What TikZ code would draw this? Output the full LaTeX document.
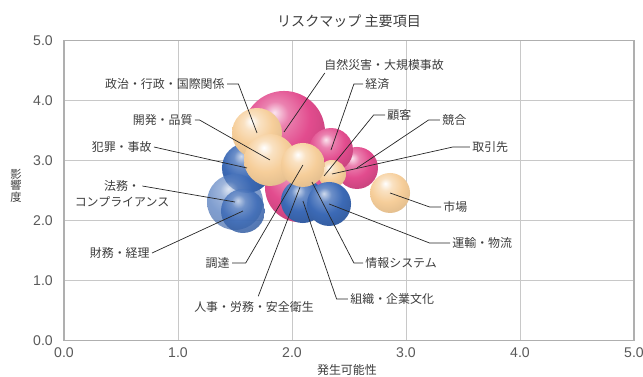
\documentclass[tikz,border=0pt]{standalone}
\usepackage{fontspec}
\setmainfont{Liberation Sans}
\newfontfamily\jpfont{Noto Sans CJK JP}
\usetikzlibrary{calc}
\definecolor{riskpink}{RGB}{226,76,142}
\definecolor{riskbeige}{RGB}{246,206,154}
\definecolor{riskblue}{RGB}{60,106,182}
\definecolor{gridgray}{RGB}{200,200,200}
\definecolor{framegray}{RGB}{175,175,175}
\definecolor{labelgray}{RGB}{60,60,60}
\pgfdeclareradialshading{pinkball}{\pgfpoint{-6bp}{12bp}}{color(0bp)=(riskpink!15!white); color(8bp)=(riskpink!70!white); color(20bp)=(riskpink); color(36bp)=(riskpink!85!black); color(52bp)=(riskpink!55!black); color(70bp)=(riskpink!50!black)}
\pgfdeclareradialshading{beigeball}{\pgfpoint{-6bp}{12bp}}{color(0bp)=(white); color(8bp)=(riskbeige!60!white); color(20bp)=(riskbeige); color(36bp)=(riskbeige!90!black); color(52bp)=(riskbeige!65!black); color(70bp)=(riskbeige!60!black)}
\pgfdeclareradialshading{blueball}{\pgfpoint{-6bp}{12bp}}{color(0bp)=(riskblue!25!white); color(8bp)=(riskblue!75!white); color(20bp)=(riskblue); color(36bp)=(riskblue!85!black); color(52bp)=(riskblue!55!black); color(70bp)=(riskblue!50!black)}
\tikzset{
    bubble/.style={circle, inner sep=0pt, minimum size=#1},
    pinkbub/.style={bubble=#1, shading=pinkball},
    beigebub/.style={bubble=#1, shading=beigeball},
    bluebub/.style={bubble=#1, shading=blueball},
    riskname/.style={font=\jpfont\fontsize{8.5}{10}\selectfont, text=labelgray, inner sep=1.5pt},
    ticklabel/.style={font=\fontsize{10}{12}\selectfont, text=black!65, inner sep=0pt},
    leader/.style={draw=black!85, line width=0.5pt},
    gridline/.style={draw=gridgray, line width=0.7pt},
}

\begin{document}
\begin{tikzpicture}[x=2.85cm, y=1.5025cm]
    \useasboundingbox (-0.5614,-0.5874) rectangle (5.0789,5.6689);

    % grid and frame
    \foreach \k in {1,...,4} {
        \draw[gridline] (\k,0) -- (\k,5);
        \draw[gridline] (0,\k) -- (5,\k);
    }
    \draw[framegray, line width=0.8pt] (0,0) rectangle (5,5);

    %% Ticks
    \foreach \k in {0,...,5} {
        \node[ticklabel, anchor=east] (ty\k) at (-0.096,\k) {\k.0};
        \node[ticklabel] (tx\k) at (\k,-0.205) {\k.0};
    }
    \node[font=\jpfont\fontsize{10}{12}\selectfont, text=labelgray] (title) at (2.5,5.311) {リスクマップ 主要項目};
    \node[font=\jpfont\fontsize{8.5}{10}\selectfont, text=labelgray] (xname) at (2.482,-0.486) {発生可能性};
    \foreach \c [count=\i] in {影,響,度}
        \node[font=\jpfont\fontsize{8}{9}\selectfont, text=labelgray, inner sep=0pt] (yname\i) at (-0.421,{2.95-0.185*\i}) {\c};

    %% Bubbles (back to front)
    \node[pinkbub=1.75cm] (b-jinji) at (2.070,2.554) {};
    \node[pinkbub=2.05cm] (b-shizen) at (1.930,3.473) {};
    \node[pinkbub=1.05cm] (b-kyogo) at (2.570,2.874) {};
    \node[pinkbub=1.1cm] (b-keizai) at (2.342,3.173) {};
    \node[bluebub=1.25cm] (b-hanzai) at (1.605,2.874) {};
    \node[beigebub=1.25cm] (b-seiji) at (1.693,3.456) {};
    \node[beigebub=1.3cm] (b-kaihatsu) at (1.807,3.007) {};
    \node[bluebub=1.1cm] (b-soshiki) at (2.096,2.324) {};
    \node[beigebub=0.7cm] (b-torihiki) at (2.351,2.774) {};
    \node[bluebub=1.1cm] (b-unyu) at (2.325,2.275) {};
    \node[beigebub=1.1cm] (b-chotatsu) at (2.096,2.924) {};
    \node[beigebub=1.0cm] (b-shijo) at (2.860,2.458) {};
    \node[bluebub=1.4cm, opacity=0.65] (b-homu) at (1.500,2.308) {};
    \node[bluebub=1.1cm, opacity=0.85] (b-zaimu) at (1.570,2.158) {};
    \coordinate (c-kokyaku) at (2.281,2.741);
    \coordinate (c-joho) at (2.175,2.641);

    %% Names
    \node[riskname, anchor=east] (l-seiji) at (1.430,4.271) {政治・行政・国際関係};
    \node[riskname, anchor=west] (l-shizen) at (2.263,4.587) {自然災害・大規模事故};
    \node[riskname, anchor=west] (l-keizai) at (2.623,4.271) {経済};
    \node[riskname, anchor=west] (l-kokyaku) at (2.816,3.755) {顧客};
    \node[riskname, anchor=west] (l-kyogo) at (3.298,3.672) {競合};
    \node[riskname, anchor=west] (l-torihiki) at (3.561,3.223) {取引先};
    \node[riskname, anchor=west] (l-shijo) at (3.307,2.225) {市場};
    \node[riskname, anchor=west] (l-unyu) at (3.386,1.626) {運輸・物流};
    \node[riskname, anchor=west] (l-joho) at (2.623,1.293) {情報システム};
    \node[riskname, anchor=west] (l-soshiki) at (2.491,0.694) {組織・企業文化};
    \node[riskname] (l-jinji) at (1.667,0.561) {人事・労務・安全衛生};
    \node[riskname, anchor=east] (l-chotatsu) at (1.474,1.293) {調達};
    \node[riskname, anchor=east] (l-zaimu) at (0.772,1.459) {財務・経理};
    \node[riskname] (l-homu1) at (0.509,2.574) {法務・};
    \node[riskname] (l-homu2) at (0.509,2.308) {コンプライアンス};
    \node[riskname, anchor=east] (l-hanzai) at (0.789,3.223) {犯罪・事故};
    \node[riskname, anchor=east] (l-kaihatsu) at (1.149,3.672) {開発・品質};

    %% Leaders
    \draw[leader] (l-seiji.east) -- ++(0.1,0) -- (b-seiji.center);
    \draw[leader] ([xshift=2pt]l-shizen.south west) -- (b-shizen.center);
    \draw[leader] (l-keizai.west) -- ++(-0.08,0) -- (b-keizai.center);
    \draw[leader] (l-kokyaku.west) -- ++(-0.1,0) -- (c-kokyaku);
    \draw[leader] (l-kyogo.west) -- ++(-0.1,0) -- (b-kyogo.center);
    \draw[leader] (l-torihiki.west) -- ++(-0.15,0) -- (b-torihiki.center);
    \draw[leader] (l-shijo.west) -- ++(-0.1,0) -- (b-shijo.center);
    \draw[leader] (l-unyu.west) -- ++(-0.18,0) -- (b-unyu.center);
    \draw[leader] (l-joho.west) -- ++(-0.08,0) -- (c-joho);
    \draw[leader] (l-soshiki.west) -- ++(-0.1,0) -- (b-soshiki.center);
    \draw[leader] ([xshift=3pt,yshift=2pt]l-jinji.north) -- (b-jinji.center);
    \draw[leader] (l-chotatsu.east) -- ++(0.12,0) -- (b-chotatsu.center);
    \draw[leader] (l-zaimu.east) -- (b-zaimu.center);
    \draw[leader] (l-homu1.east) -- (b-homu.center);
    \draw[leader] (l-hanzai.east) -- (b-hanzai.center);
    \draw[leader] (l-kaihatsu.east) -- ++(0.04,0) -- (b-kaihatsu.center);
\end{tikzpicture}
\end{document}
